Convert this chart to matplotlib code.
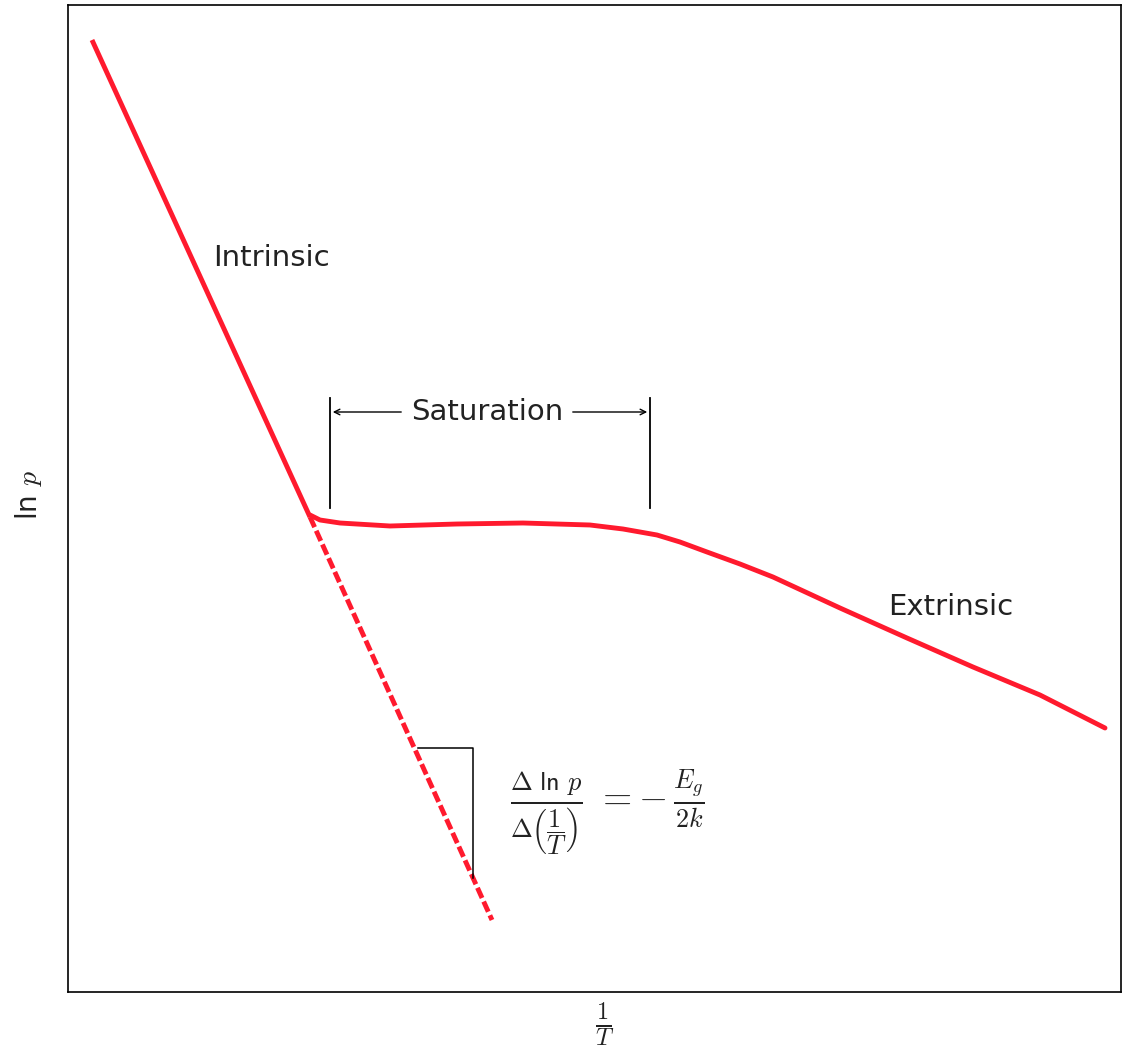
import matplotlib.pyplot as plt

plt.rcParams['font.family'] = ['DejaVu Sans']
plt.rcParams['mathtext.fontset'] = 'cm'

# 本征区 (实线部分与虚线延长部分)
intr_x = [24, 242]
intr_y = [952, 475]
intr_ext_x = [242, 424]
intr_ext_y = [475, 72]

# 饱和区 + 非本征区曲线
curve_x = [242, 252, 272, 322, 389, 455, 522, 555, 589, 612, 639, 672, 705, 772, 839, 905, 972, 1037]
curve_y = [477, 472, 469, 466, 468, 469, 467, 463, 457, 450, 440, 428, 415, 384, 354, 325, 297, 264]

# 饱和区范围
sat_left, sat_right = 262, 582
sat_top, sat_bottom = 594, 484
sat_arrow_y = 580

# 斜率三角形
tri_x = [350, 405, 405]
tri_y = [244, 244, 114]

red = '#ff1a2e'
ink = '#222222'

fig = plt.figure(figsize=(11.23, 10.51), dpi=100)
ax = fig.add_axes([68 / 1123, 59 / 1051, 1053 / 1123, 987 / 1051])

ax.plot(intr_x, intr_y, color=red, lw=3.5, solid_capstyle='butt')
ax.plot(intr_ext_x, intr_ext_y, color=red, lw=3.5, dashes=(2.3, 0.8))
ax.plot(curve_x, curve_y, color=red, lw=3.5, solid_capstyle='round',
        solid_joinstyle='round')

ax.plot(tri_x, tri_y, color='black', lw=1.1)

# 饱和区标注
ax.plot([sat_left, sat_left], [sat_bottom, sat_top], color='black', lw=1.3)
ax.plot([sat_right, sat_right], [sat_bottom, sat_top], color='black', lw=1.3)
ax.annotate('', xy=(sat_left, sat_arrow_y), xytext=(336, sat_arrow_y),
            arrowprops=dict(arrowstyle='->', lw=1.0, color='black'))
ax.annotate('', xy=(sat_right, sat_arrow_y), xytext=(502, sat_arrow_y),
            arrowprops=dict(arrowstyle='->', lw=1.0, color='black'))
ax.text(419, sat_arrow_y, 'Saturation', fontsize=21, ha='center', va='center', color=ink)

ax.text(145, 734, 'Intrinsic', fontsize=21, ha='left', va='center', color=ink)
ax.text(820, 385, 'Extrinsic', fontsize=21, ha='left', va='center', color=ink)

ax.text(442, 180,
        r'$\frac{\Delta\ \mathsf{ln}\ p}{\Delta\left(\dfrac{1}{T}\right)}\ =-\,\frac{E_g}{2k}$',
        fontsize=27, ha='left', va='center', color=ink)

ax.set_xlim(0, 1053)
ax.set_ylim(0, 987)
ax.set_xticks([])
ax.set_yticks([])
for s in ax.spines.values():
    s.set_linewidth(1.2)
    s.set_color('black')

fig.text(28 / 1123, 1 - 495 / 1051, r'ln $p$', rotation=90, fontsize=20,
         ha='center', va='center', color=ink)
fig.text(605 / 1123, 1 - 1025 / 1051, r'$\frac{1}{T}$', fontsize=25,
         ha='center', va='center', color=ink)

fig.savefig('out.png', dpi=100)
